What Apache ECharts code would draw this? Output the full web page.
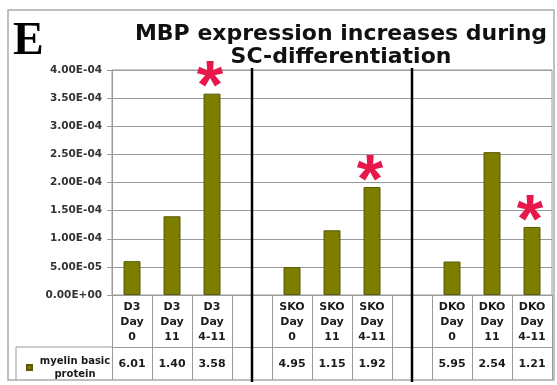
<!DOCTYPE html>
<html>
<head>
<meta charset="utf-8">
<script src="https://cdn.jsdelivr.net/npm/echarts@6/dist/echarts.min.js"></script>
<style>html,body{margin:0;padding:0;background:#fff;}#c{width:557px;height:385px;}</style>
</head>
<body>
<div id="c"></div>
<script>
// ---- data ----
var categories = ['D3\nDay\n0', 'D3\nDay\n11', 'D3\nDay\n4-11', '',
                  'SKO\nDay\n0', 'SKO\nDay\n11', 'SKO\nDay\n4-11', '',
                  'DKO\nDay\n0', 'DKO\nDay\n11', 'DKO\nDay\n4-11'];
var mbpValues = [6.01e-5, 1.40e-4, 3.58e-4, null,
                 4.95e-5, 1.15e-4, 1.92e-4, null,
                 5.95e-5, 2.54e-4, 1.21e-4];
var significant = [false, false, true, false,
                   false, false, true, false,
                   false, false, true];
var seriesName = 'myelin basic protein';
var titleText = 'MBP expression increases during\nSC-differentiation';
var panelLetter = 'E';
var yMin = 0, yMax = 4e-4, yStep = 5e-5;

function sci(v) {
  if (v === 0) return '0.00E+00';
  var e = Math.floor(Math.log10(Math.abs(v)) + 1e-9);
  var m = v / Math.pow(10, e);
  return m.toFixed(2) + 'E' + (e < 0 ? '-' : '+') + String(Math.abs(e)).padStart(2, '0');
}
function mantissa(v) {
  if (v == null) return '';
  var e = Math.floor(Math.log10(Math.abs(v)) + 1e-9);
  return (v / Math.pow(10, e)).toFixed(2);
}
var tableValues = mbpValues.map(mantissa);

var GRID = '#9a9a9a';
var TXT = '#1a1a1a';
var FONT = 'DejaVu Sans';

var chart = echarts.init(document.getElementById('c'), null, {renderer: 'canvas'});
chart.setOption({
  animation: false,
  backgroundColor: '#fff',
  title: {
    text: titleText,
    left: 336, top: 18, textAlign: 'center',
    textStyle: {fontFamily: FONT, fontWeight: 'bold', fontSize: 22, lineHeight: 23, color: '#111'}
  },
  legend: {
    left: 21, top: 351, itemWidth: 5, itemHeight: 5, icon: 'rect',
    data: [seriesName],
    formatter: function () { return '{a|myelin basic}\n{a|protein}'; },
    textStyle: {
      rich: {a: {fontFamily: FONT, fontWeight: 'bold', fontSize: 10, lineHeight: 13, width: 76, align: 'center', color: TXT}}
    }
  },
  grid: {left: 112, right: 5, top: 70, bottom: 90, show: true, borderColor: GRID, borderWidth: 1},
  xAxis: [{
    type: 'category', data: categories, position: 'bottom',
    axisLine: {show: true, lineStyle: {color: GRID, width: 1}},
    axisTick: {show: true, interval: 0, length: 85, lineStyle: {color: GRID, width: 1}},
    axisLabel: {interval: 0, margin: 5, fontFamily: FONT, fontWeight: 'bold', fontSize: 11, lineHeight: 15, color: TXT},
    splitLine: {show: false}
  }, {
    type: 'category', data: tableValues, position: 'bottom', offset: 52,
    axisLine: {show: true, lineStyle: {color: GRID, width: 1}},
    axisTick: {show: false},
    axisLabel: {interval: 0, margin: 12, fontFamily: FONT, fontWeight: 'bold', fontSize: 11, color: TXT},
    splitLine: {show: false}
  }],
  yAxis: {
    type: 'value', min: yMin, max: yMax, interval: yStep,
    axisLine: {show: true, lineStyle: {color: GRID, width: 1}},
    axisTick: {show: true, length: 5, lineStyle: {color: GRID}},
    axisLabel: {formatter: sci, margin: 10, fontFamily: FONT, fontWeight: 'bold', fontSize: 10.5, color: '#333'},
    splitLine: {show: true, lineStyle: {color: GRID, width: 1.2}}
  },
  series: [{
    name: seriesName, type: 'bar', xAxisIndex: 0, data: mbpValues, barWidth: 17,
    itemStyle: {color: '#7d7d00', borderColor: '#5a5a05', borderWidth: 1},
    label: {
      show: true, position: 'top', distance: 0, offset: [-2, 30],
      formatter: function (p) { return significant[p.dataIndex] ? '*' : ''; },
      fontFamily: 'Liberation Sans', fontWeight: 'bold', fontSize: 68, lineHeight: 68, color: '#e8174c'
    }
  }]
});

// separators at the empty categories, plus table frame (decoration)
var yTop = chart.convertToPixel({yAxisIndex: 0}, yMax);
var g = [];
categories.forEach(function (c, i) {
  if (c === '') {
    var x = chart.convertToPixel({xAxisIndex: 0}, i);
    g.push({type: 'line', shape: {x1: x, y1: yTop - 2, x2: x, y2: 382}, style: {stroke: '#000', lineWidth: 2.5}, z: 100});
  }
});
g.push({type: 'rect', shape: {x: 8, y: 10, width: 546, height: 370}, style: {fill: null, stroke: '#aaa', lineWidth: 1.5}, z: 50});
g.push({type: 'line', shape: {x1: 16, y1: 347, x2: 112, y2: 347}, style: {stroke: GRID, lineWidth: 1}, z: 50});
g.push({type: 'line', shape: {x1: 16, y1: 347, x2: 16, y2: 380}, style: {stroke: GRID, lineWidth: 1}, z: 50});
g.push({type: 'text', style: {text: panelLetter, x: 13, y: 42, font: 'bold 46px "Liberation Serif"', textVerticalAlign: 'middle', fill: '#000'}, z: 60});
chart.setOption({graphic: g});
</script>
</body>
</html>
